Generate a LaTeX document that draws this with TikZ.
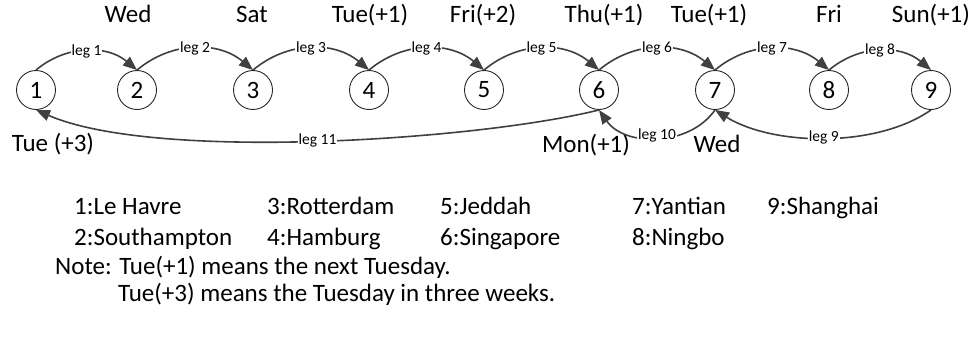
\documentclass[tikz,border=0pt]{standalone}
\usepackage{fontspec}
\setmainfont{Carlito}
\usetikzlibrary{arrows.meta}
\definecolor{lc}{HTML}{404040}
\begin{document}
\begin{tikzpicture}[x=1pt,y=1pt,
  big/.style={font=\fontsize{25}{30}\selectfont, inner sep=0pt, text=black},
  port/.style={circle, draw=black!85, line width=0.9pt, minimum size=39pt, inner sep=0pt, font=\fontsize{25}{30}\selectfont},
  lab/.style={fill=white, inner sep=1pt, font=\fontsize{15.5}{18}\selectfont, text=black},
  leg/.style={draw=lc, line width=1.6pt, -{Triangle[length=14pt,width=11pt]}, fill=none},
]
\useasboundingbox (0,0) rectangle (975,-340);
% nodes
\node[port] (n1) at (36,-90) {1};
\node[port] (n2) at (137,-90) {2};
\node[port] (n3) at (253,-90) {3};
\node[port] (n4) at (369,-90) {4};
\node[port] (n5) at (484,-90) {5};
\node[port] (n6) at (599,-90) {6};
\node[port] (n7) at (715,-90) {7};
\node[port] (n8) at (829,-90) {8};
\node[port] (n9) at (931,-90) {9};
% day labels
\node[big, anchor=base] (d2) at (128,-23) {Wed};
\node[big, anchor=base] (d3) at (252,-23) {Sat};
\node[big, anchor=base] (d4) at (370,-23) {Tue(+1)};
\node[big, anchor=base] (d5) at (483,-23) {Fri(+2)};
\node[big, anchor=base] (d6) at (604,-23) {Thu(+1)};
\node[big, anchor=base] (d7) at (709,-23) {Tue(+1)};
\node[big, anchor=base] (d8) at (829,-23) {Fri};
\node[big, anchor=base] (d9) at (931,-23) {Sun(+1)};
\node[big, anchor=base] (b1) at (53,-151) {Tue (+3)};
\node[big, anchor=base] (b6) at (586,-152) {Mon(+1)};
\node[big, anchor=base] (b7) at (717,-152) {Wed};
% legs
\draw[leg] (n1.north) to[out=40,in=140] node[lab] {leg 1} (n2.north);
\draw[leg] (n2.north) to[out=40,in=140] node[lab] {leg 2} (n3.north);
\draw[leg] (n3.north) to[out=40,in=140] node[lab] {leg 3} (n4.north);
\draw[leg] (n4.north) to[out=40,in=140] node[lab] {leg 4} (n5.north);
\draw[leg] (n5.north) to[out=40,in=140] node[lab] {leg 5} (n6.north);
\draw[leg] (n6.north) to[out=40,in=140] node[lab] {leg 6} (n7.north);
\draw[leg] (n7.north) to[out=40,in=140] node[lab] {leg 7} (n8.north);
\draw[leg] (n8.north) to[out=40,in=140] node[lab] {leg 8} (n9.north);
\draw[leg] (n9.south) to[out=-145,in=-32,looseness=0.8] node[lab] {leg 9} (n7.south);
\draw[leg] (n7.south) to[out=-125,in=-55] node[lab, yshift=2pt] {leg 10} (n6.south);
\draw[leg] (n6.south) .. controls +(-120,-30) and +(120,-52) .. node[lab] {leg 11} (n1.south);
% legend
\node[big, anchor=base west] (p1) at (74,-214) {1:Le Havre};
\node[big, anchor=base west] (p3) at (267,-214) {3:Rotterdam};
\node[big, anchor=base west] (p5) at (440,-214) {5:Jeddah};
\node[big, anchor=base west] (p7) at (632,-214) {7:Yantian};
\node[big, anchor=base west] (p9) at (767,-214) {9:Shanghai};
\node[big, anchor=base west] (p2) at (74,-245) {2:Southampton};
\node[big, anchor=base west] (p4) at (267,-245) {4:Hamburg};
\node[big, anchor=base west] (p6) at (440,-245) {6:Singapore};
\node[big, anchor=base west] (p8) at (632,-245) {8:Ningbo};
% note
\node[big, anchor=base west] (note1) at (55,-274) {Note: Tue(+1) means the next Tuesday.};
\node[big, anchor=base west] (note2) at (118,-301) {Tue(+3) means the Tuesday in three weeks.};
\end{tikzpicture}
\end{document}
